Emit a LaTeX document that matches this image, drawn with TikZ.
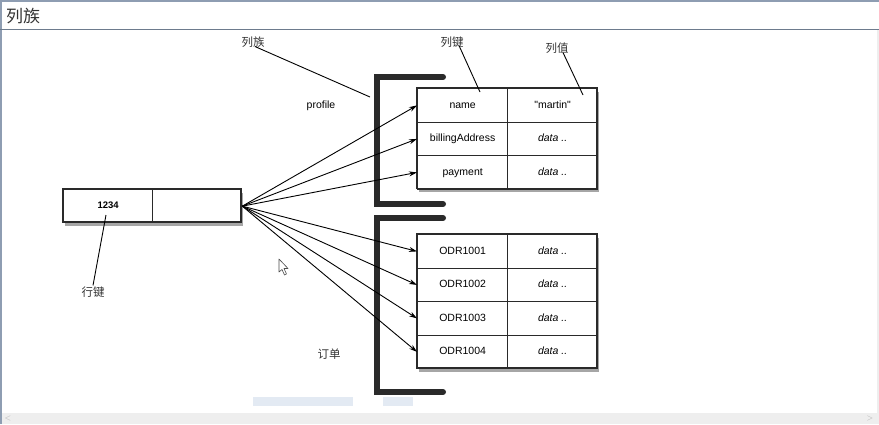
\documentclass[tikz,border=0pt]{standalone}
\usepackage{fontspec}
\setmainfont{Liberation Sans}
\newfontfamily\nomap{Liberation Sans}
\newfontfamily\cjk{Noto Sans CJK SC}
\usetikzlibrary{arrows.meta,shadows}
\definecolor{frameblue}{HTML}{8E9DB2}
\definecolor{sepblue}{HTML}{6D7B8D}
\definecolor{scrollgrey}{HTML}{EEEEEE}
\definecolor{selblue}{HTML}{E3EAF3}
\definecolor{ink}{HTML}{2A2A2A}
\tikzset{
  tshadow/.style={drop shadow={shadow xshift=2pt,shadow yshift=-3.5pt,opacity=0.35,fill=black}},
  tbox/.style={draw=ink,line width=1.3pt,fill=white,tshadow},
  cell/.style={draw=ink,line width=1.3pt,minimum width=90pt,minimum height=33.5pt,inner sep=0pt,anchor=north west,text height=7.5pt,text depth=2pt,font=\fontsize{10.5}{12}\selectfont},
  val/.style={cell,font=\fontsize{10.5}{12}\selectfont\itshape},
  lbl/.style={font=\cjk\fontsize{11.5}{13}\selectfont,text=black!80,inner sep=1pt},
  note/.style={font=\fontsize{10.5}{12}\selectfont,inner sep=1pt},
  lead/.style={line width=0.9pt,black},
  link/.style={line width=0.9pt,black,-{Stealth[length=8pt,width=5pt]}},
  bracket/.style={line width=6pt,ink,line cap=round,line join=miter}
}
\begin{document}
\begin{tikzpicture}[x=1pt,y=-1pt]
\useasboundingbox (0,0) rectangle (879,424);
% page frame
\fill[white] (0,0) rectangle (879,424);
\fill[frameblue] (0,0) rectangle (879,1.5);
\fill[frameblue] (0,0) rectangle (1.5,424);
\fill[sepblue] (0,28.5) rectangle (879,30);
\fill[scrollgrey] (876.5,30) rectangle (879,413);
\fill[scrollgrey] (1.5,413) rectangle (879,424);
\node[font=\fontsize{8}{8}\selectfont,text=black!30] (sl) at (8,418.5) {$<$};
\node[font=\fontsize{8}{8}\selectfont,text=black!30] (sr) at (870,418.5) {$>$};
\node[font=\cjk\fontsize{17}{19}\selectfont,text=black!80,anchor=west,inner sep=0pt] (title) at (6,16) {列族};
% faint selection marks
\fill[selblue] (253,397) rectangle (353,406);
\fill[selblue] (383,397) rectangle (413,406);

% brackets
\draw[bracket] (443,77) -- (377,77) -- (377,204) -- (443,204);
\draw[bracket] (443,218) -- (377,218) -- (377,392) -- (443,392);

% row key
\path[tbox] (63,189) rectangle (241,222);
\node[cell,minimum width=89pt,minimum height=33pt,font=\fontsize{9.5}{11}\selectfont\bfseries] (rk) at (63,189) {1234};
\node[cell,minimum width=89pt,minimum height=33pt] (rkv) at (152,189) {};

% top table
\path[tbox] (417,88) rectangle (597,188.5);
\node[cell] (k1) at (417,88) {name};
\node[cell] (v1) at (507,88) {{\nomap"martin"}};
\node[cell] (k2) at (417,121.5) {billingAddress};
\node[val] (v2) at (507,121.5) {data ..};
\node[cell] (k3) at (417,155) {payment};
\node[val] (v3) at (507,155) {data ..};

% bottom table
\path[tbox] (417,234) rectangle (597,368);
\node[cell] (o1) at (417,234) {ODR1001};
\node[val] (w1) at (507,234) {data ..};
\node[cell] (o2) at (417,267.5) {ODR1002};
\node[val] (w2) at (507,267.5) {data ..};
\node[cell] (o3) at (417,301) {ODR1003};
\node[val] (w3) at (507,301) {data ..};
\node[cell] (o4) at (417,334.5) {ODR1004};
\node[val] (w4) at (507,334.5) {data ..};

% arrows
\foreach \t in {k1,k2,k3,o1,o2,o3,o4}{
  \draw[link] (rkv.east) -- (\t.west);
}

% labels
\node[note] (prof) at (321,106) {profile};
\node[lbl] (order) at (329,354) {订单};
\node[lbl] (lfam) at (253,42) {列族};
\node[lbl] (lkey) at (452,42) {列键};
\node[lbl] (lval) at (557,48) {列值};
\node[lbl] (lrow) at (93,292) {行键};
\coordinate (pfam) at (370,97);
\coordinate (pkey) at (480,92);
\coordinate (pval) at (583,95);
\coordinate (prow) at (106,215);
\draw[lead] ([xshift=2pt,yshift=2pt]lfam.south) -- (pfam);
\draw[lead] ([xshift=7pt,yshift=3pt]lkey.south) -- (pkey);
\draw[lead] ([xshift=6pt,yshift=2pt]lval.south) -- (pval);
\draw[lead] (lrow.north) -- (prow);

% mouse pointer
\draw[black!70,fill=white,line width=0.6pt,line join=round]
  (279,259) -- (279,272) -- (282,269.5) -- (284.5,275) -- (286.5,274) -- (284,268.5) -- (288,268.5) -- cycle;
\end{tikzpicture}
\end{document}
